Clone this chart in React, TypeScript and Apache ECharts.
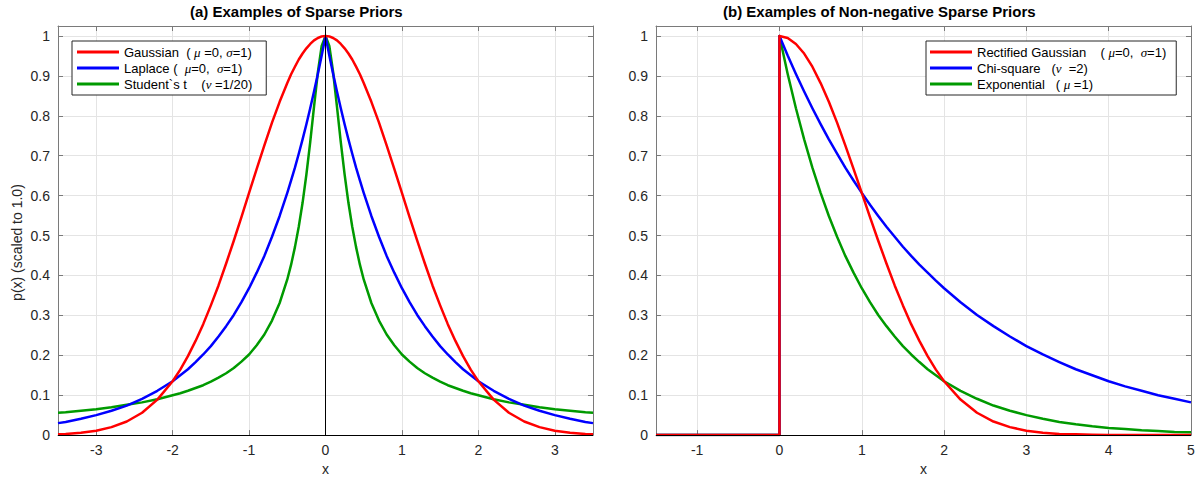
import React, { useEffect, useRef } from 'react';
import * as echarts from 'echarts';

// ---------- Panel (a): symmetric sparse priors ----------
const leftX = [-3.5,-3.4,-3.2,-3,-2.8,-2.6,-2.4,-2.2,-2,-1.9,-1.8,-1.7,-1.6,-1.5,-1.4,-1.3,-1.2,-1.1,-1,-0.9,-0.8,-0.7,-0.6,-0.5,-0.45,-0.4,-0.35,-0.3,-0.25,-0.2,-0.15,-0.1,-0.05,0,0.05,0.1,0.15,0.2,0.25,0.3,0.35,0.4,0.45,0.5,0.6,0.7,0.8,0.9,1,1.1,1.2,1.3,1.4,1.5,1.6,1.7,1.8,1.9,2,2.2,2.4,2.6,2.8,3,3.2,3.4,3.5];
const gaussianY = [.002,.003,.006,.011,.020,.034,.056,.089,.135,.164,.198,.236,.278,.325,.375,.430,.487,.546,.607,.667,.726,.783,.835,.882,.904,.923,.941,.956,.969,.980,.989,.995,.999,1,.999,.995,.989,.980,.969,.956,.941,.923,.904,.882,.835,.783,.726,.667,.607,.546,.487,.430,.375,.325,.278,.236,.198,.164,.135,.089,.056,.034,.020,.011,.006,.003,.002];
const laplaceY = [.030,.033,.041,.050,.061,.074,.091,.111,.135,.150,.165,.183,.202,.223,.247,.273,.301,.333,.368,.407,.449,.497,.549,.607,.638,.670,.705,.741,.779,.819,.861,.905,.951,1,.951,.905,.861,.819,.779,.741,.705,.670,.638,.607,.549,.497,.449,.407,.368,.333,.301,.273,.247,.223,.202,.183,.165,.150,.135,.111,.091,.074,.061,.050,.041,.033,.030];
const studentY = [.056,.057,.061,.065,.070,.076,.082,.090,.100,.105,.111,.118,.125,.134,.144,.155,.168,.184,.202,.225,.252,.287,.331,.390,.427,.471,.522,.582,.653,.734,.823,.909,.975,1,.975,.909,.823,.734,.653,.582,.522,.471,.427,.390,.331,.287,.252,.225,.202,.184,.168,.155,.144,.134,.125,.118,.111,.105,.100,.090,.082,.076,.070,.065,.061,.057,.056];

// ---------- Panel (b): non-negative sparse priors ----------
const rightX = [-1.5,0,0,0.1,0.2,0.3,0.4,0.5,0.6,0.7,0.8,0.9,1,1.1,1.2,1.3,1.4,1.5,1.6,1.7,1.8,1.9,2,2.2,2.4,2.6,2.8,3,3.2,3.4,3.6,3.8,4,4.2,4.4,4.6,4.8,5];
const rectGaussY = [0,0,1,.995,.980,.956,.923,.882,.835,.783,.726,.667,.607,.546,.487,.430,.375,.325,.278,.236,.198,.164,.135,.089,.056,.034,.020,.011,.006,.003,.002,.001,0,0,0,0,0,0];
const chiSquareY = [0,0,1,.951,.905,.861,.819,.779,.741,.705,.670,.638,.607,.577,.549,.522,.497,.472,.449,.427,.407,.387,.368,.333,.301,.273,.247,.223,.202,.183,.165,.150,.135,.122,.111,.100,.091,.082];
const exponentialY = [0,0,1,.905,.819,.741,.670,.607,.549,.497,.449,.407,.368,.333,.301,.273,.247,.223,.202,.183,.165,.150,.135,.111,.091,.074,.061,.050,.041,.033,.027,.022,.018,.015,.012,.010,.008,.007];

const titles = ['(a) Examples of Sparse Priors', '(b) Examples of Non-negative Sparse Priors'];
const leftNames = ['Gaussian', 'Laplace', 'Student`s t'];
const rightNames = ['Rectified Gaussian', 'Chi-square', 'Exponential'];
const legendText: Record<string, string> = {
  'Gaussian': 'Gaussian  ( {g|μ} =0, {g|σ}=1)',
  'Laplace': 'Laplace (  {g|μ}=0,  {g|σ}=1)',
  'Student`s t': 'Student`s t    ({g|ν} =1/20)',
  'Rectified Gaussian': 'Rectified Gaussian    ( {g|μ}=0,  {g|σ}=1)',
  'Chi-square': 'Chi-square   ({g|ν}  =2)',
  'Exponential': 'Exponential   ( {g|μ} =1)',
};
const yName = 'p(x) (scaled to 1.0)';
const xName = 'x';

const RED = '#ff0000';
const BLUE = '#0000ff';
const GREEN = '#009a00';

export default function App() {
  const ref = useRef<HTMLDivElement>(null);
  useEffect(() => {
    if (!ref.current) return;
    const chart = echarts.init(ref.current, null, { renderer: 'svg' });
    const font = '"Liberation Sans", Arial, Helvetica, sans-serif';
    const axisColor = '#7a7a7a';
    const labelColor = '#262626';
    const gridColor = '#e4e4e4';
    const pair = (xs: number[], ys: number[]) => xs.map((x, i) => [x, ys[i]]);
    const xFmt = (v: number) => {
      const r = Math.round(v);
      return Math.abs(v - r) < 1e-6 ? String(r === 0 ? 0 : r) : '';
    };
    const yFmt = (v: number) => {
      const r = Math.round(v * 10) / 10;
      return Math.abs(v - r) < 1e-6 ? String(r) : '';
    };

    const bottomX = (gridIndex: number, min: number, max: number) => ({
      type: 'value', gridIndex, position: 'bottom', min, max,
      minInterval: 1, maxInterval: 1, splitNumber: 7,
      axisLine: { show: true, onZero: false, lineStyle: { color: axisColor, width: 1 } },
      axisTick: { show: true, inside: true, length: 5, lineStyle: { color: axisColor } },
      axisLabel: { show: true, margin: 8, color: labelColor, fontSize: 14, fontFamily: font, formatter: xFmt },
      splitLine: { show: true, lineStyle: { color: gridColor, width: 1 } },
      name: xName, nameLocation: 'middle', nameGap: 26,
      nameTextStyle: { color: labelColor, fontSize: 14, fontFamily: font },
    });
    const topX = (gridIndex: number, min: number, max: number) => ({
      type: 'value', gridIndex, position: 'top', min, max,
      minInterval: 1, maxInterval: 1, splitNumber: 7,
      axisLine: { show: true, onZero: false, lineStyle: { color: axisColor, width: 1 } },
      axisTick: { show: true, inside: true, length: 5, lineStyle: { color: axisColor } },
      axisLabel: { show: false },
      splitLine: { show: false },
    });
    const leftY = (gridIndex: number, withName: boolean) => ({
      type: 'value', gridIndex, position: 'left', min: 0, max: 1.025,
      minInterval: 0.1, maxInterval: 0.1, splitNumber: 10,
      axisLine: { show: true, onZero: false, lineStyle: { color: axisColor, width: 1 } },
      axisTick: { show: true, inside: true, length: 5, lineStyle: { color: axisColor } },
      axisLabel: { show: true, margin: 8, color: labelColor, fontSize: 14, fontFamily: font, formatter: yFmt },
      splitLine: { show: true, lineStyle: { color: gridColor, width: 1 } },
      ...(withName ? {
        name: yName, nameLocation: 'middle', nameGap: 34,
        nameTextStyle: { color: labelColor, fontSize: 14, fontFamily: font, padding: [0, 24, 0, 0] },
      } : {}),
    });
    const rightY = (gridIndex: number) => ({
      type: 'value', gridIndex, position: 'right', min: 0, max: 1.025,
      minInterval: 0.1, maxInterval: 0.1, splitNumber: 10,
      axisLine: { show: true, onZero: false, lineStyle: { color: axisColor, width: 1 } },
      axisTick: { show: true, inside: true, length: 5, lineStyle: { color: axisColor } },
      axisLabel: { show: false },
      splitLine: { show: false },
    });

    const curve = (name: string, color: string, data: number[][], xi: number, yi: number, extra: any = {}) => ({
      name, type: 'line', xAxisIndex: xi, yAxisIndex: yi, data,
      showSymbol: false, symbol: 'none', color,
      lineStyle: { color, width: 2.5, join: 'round' },
      emphasis: { disabled: true }, silent: true,
      ...extra,
    });
    const blackMark = (lines: any[]) => ({
      markLine: {
        silent: true, symbol: 'none', animation: false,
        label: { show: false },
        lineStyle: { color: '#000', width: 1, type: 'solid' },
        data: lines,
      },
    });

    const legendBase = {
      orient: 'vertical', top: 41, itemWidth: 42, itemHeight: 3, itemGap: 0,
      icon: 'rect', borderColor: '#262626', borderWidth: 1, backgroundColor: '#ffffff',
      selectedMode: false,
      formatter: (n: string) => legendText[n] || n,
      textStyle: {
        fontFamily: font, fontSize: 13, color: '#000', lineHeight: 16,
        rich: { g: { fontFamily: '"Liberation Serif", "DejaVu Serif", serif', fontStyle: 'italic', fontSize: 13, lineHeight: 16, color: '#000' } },
      },
    };

    chart.setOption({
      animation: false,
      backgroundColor: '#ffffff',
      title: [
        { text: titles[0], left: 190, top: 4, padding: 0, textStyle: { fontFamily: font, fontSize: 15, fontWeight: 'bold', color: '#000' } },
        { text: titles[1], left: 723, top: 4, padding: 0, textStyle: { fontFamily: font, fontSize: 15, fontWeight: 'bold', color: '#000' } },
      ],
      grid: [
        { left: 58, top: 26, width: 535, height: 415, containLabel: false },
        { left: 656, top: 26, width: 535, height: 415, containLabel: false },
      ],
      xAxis: [bottomX(0, -3.5, 3.5), topX(0, -3.5, 3.5), bottomX(1, -1.5, 5), topX(1, -1.5, 5)],
      yAxis: [leftY(0, true), rightY(0), leftY(1, false), rightY(1)],
      legend: [
        { ...legendBase, data: leftNames, left: 72, padding: [3, 14, 3, 5] },
        { ...legendBase, data: rightNames, left: 926, padding: [3, 10, 3, 4] },
      ],
      series: [
        curve('Student`s t', GREEN, pair(leftX, studentY), 0, 0, blackMark([{ xAxis: 0 }, { yAxis: 0 }])),
        curve('Laplace', BLUE, pair(leftX, laplaceY), 0, 0),
        curve('Gaussian', RED, pair(leftX, gaussianY), 0, 0),
        curve('Exponential', GREEN, pair(rightX, exponentialY), 2, 2, blackMark([{ yAxis: 0 }])),
        curve('Chi-square', BLUE, pair(rightX, chiSquareY), 2, 2),
        curve('Rectified Gaussian', RED, pair(rightX, rectGaussY), 2, 2),
      ],
    });
    return () => chart.dispose();
  }, []);
  return <div ref={ref} style={{ position: 'fixed', left: 0, top: 0, width: 1198, height: 481 }} />;
}
